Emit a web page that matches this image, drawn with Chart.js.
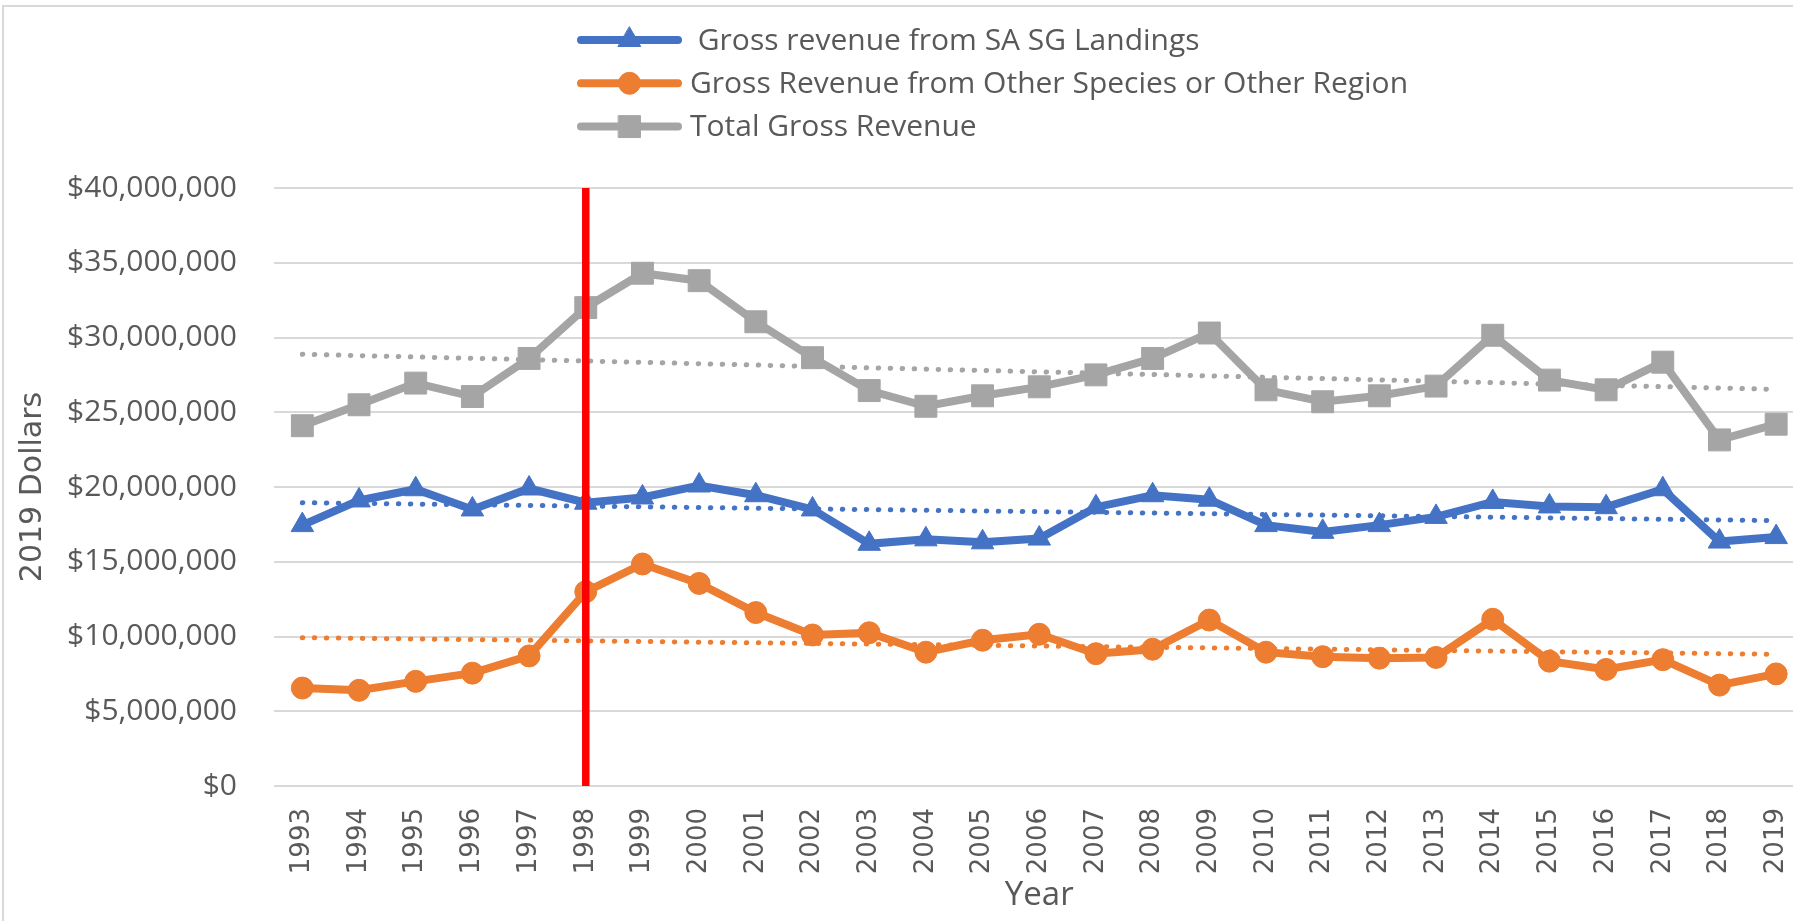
<!DOCTYPE html>
<html>
<head>
<meta charset="utf-8">
<title>Gross revenue 1993-2019</title>
<script src="https://cdn.jsdelivr.net/npm/chart.js@4.4.0/dist/chart.umd.min.js"></script>
<style>
  html, body { margin: 0; padding: 0; background: #fff; overflow: hidden; }
  #wrap { position: relative; width: 1821px; height: 921px; }
  #frame { position: absolute; left: 2px; top: 5px; right: -10px; bottom: -10px;
           border-left: 2px solid #d9d9d9; border-top: 2px solid #d9d9d9; pointer-events: none; }
</style>
</head>
<body>
<div id="wrap"><canvas id="revenueChart"></canvas><div id="frame"></div></div>
<script>
const years = ['1993', '1994', '1995', '1996', '1997', '1998', '1999', '2000', '2001', '2002',
    '2003', '2004', '2005', '2006', '2007', '2008', '2009', '2010', '2011', '2012',
    '2013', '2014', '2015', '2016', '2017', '2018', '2019'];

// 2019 dollars
const saSgRevenue = [17450000, 19100000, 19850000, 18500000, 19900000, 18950000, 19300000, 20100000, 19450000, 18500000,
    16200000, 16500000, 16300000, 16550000, 18650000, 19450000, 19150000, 17450000, 17000000, 17450000,
    18000000, 19000000, 18700000, 18650000, 19850000, 16350000, 16650000];
const otherRevenue = [6550000, 6400000, 7000000, 7550000, 8700000, 13000000, 14850000, 13550000, 11600000, 10100000,
    10250000, 8950000, 9750000, 10150000, 8850000, 9150000, 11100000, 8950000, 8650000, 8550000,
    8600000, 11150000, 8350000, 7800000, 8450000, 6750000, 7500000];
const totalRevenue = [24100000, 25500000, 26950000, 26050000, 28600000, 32000000, 34300000, 33800000, 31050000, 28650000,
    26450000, 25400000, 26100000, 26700000, 27500000, 28600000, 30300000, 26500000, 25700000, 26100000,
    26750000, 30150000, 27150000, 26500000, 28350000, 23150000, 24200000];

// linear trendlines: values at first and last year
const trendSaSg = [18950000, 17750000];
const trendOther = [9920000, 8810000];
const trendTotal = [28880000, 26530000];

const yMax = 40000000;
const yStep = 5000000;
const markerYear = '1998';

const BLUE = '#4472C4', ORANGE = '#ED7D31', GRAY = '#A5A5A5', TEXT = '#595959';

// trendline only has its two end values, the line spans the gap
function trendData(ends) {
    return years.map((y, i) => i === 0 ? ends[0] : (i === years.length - 1 ? ends[1] : null));
}

function mainSeries(label, data, color, style, radius) {
    return {
        label: label, data: data, borderColor: color, backgroundColor: color,
        borderWidth: 8, pointStyle: style, pointRadius: radius, pointBorderWidth: 1,
        pointBackgroundColor: color, pointBorderColor: color, inLegend: true, order: 2
    };
}

function trendSeries(data, color) {
    return {
        label: 'trend', data: trendData(data), borderColor: color, borderWidth: 5,
        borderDash: [0.5, 11.5], borderCapStyle: 'round', pointRadius: 0, spanGaps: true, order: 1
    };
}

function drawMarker(ctx, style, r, x, y) {
    ctx.beginPath();
    if (style === 'triangle') {
        ctx.moveTo(x, y - r);
        ctx.lineTo(x + r * 0.866, y + r * 0.5);
        ctx.lineTo(x - r * 0.866, y + r * 0.5);
        ctx.closePath();
    } else if (style === 'rect') {
        const s = r * Math.SQRT1_2;
        ctx.rect(x - s, y - s, 2 * s, 2 * s);
    } else {
        ctx.arc(x, y, r, 0, Math.PI * 2);
    }
    ctx.fill();
    ctx.stroke();
}

const stackedLegend = {
    id: 'stackedLegend',
    afterDraw(chart) {
        const ctx = chart.ctx;
        const items = chart.data.datasets.filter(d => d.inLegend);
        items.forEach((ds, i) => {
            const y = 40 + i * 43.3;
            ctx.save();
            ctx.strokeStyle = ds.borderColor;
            ctx.fillStyle = ds.borderColor;
            ctx.lineWidth = 8;
            ctx.lineCap = 'round';
            ctx.beginPath();
            ctx.moveTo(581, y);
            ctx.lineTo(678, y);
            ctx.stroke();
            ctx.lineWidth = 1;
            drawMarker(ctx, ds.pointStyle, ds.pointRadius, 629.5, y);
            ctx.fillStyle = TEXT;
            ctx.font = '30px "Open Sans"';
            ctx.textBaseline = 'middle';
            ctx.fillText(ds.label, 690, y + 1);
            ctx.restore();
        });
    }
};

const yearMarker = {
    id: 'yearMarker',
    afterDatasetsDraw(chart) {
        const {ctx, scales: {x, y}} = chart;
        const px = x.getPixelForValue(years.indexOf(markerYear));
        ctx.save();
        ctx.strokeStyle = '#FF0000';
        ctx.lineWidth = 7.5;
        ctx.beginPath();
        ctx.moveTo(px, y.getPixelForValue(yMax));
        ctx.lineTo(px, y.getPixelForValue(0));
        ctx.stroke();
        ctx.restore();
    }
};

const ctx = document.getElementById('revenueChart').getContext('2d');
new Chart(ctx, {
    type: 'line',
    data: {
        labels: years,
        datasets: [
            mainSeries(' Gross revenue from SA SG Landings', saSgRevenue, BLUE, 'triangle', 13),
            mainSeries('Gross Revenue from Other Species or Other Region', otherRevenue, ORANGE, 'circle', 11),
            mainSeries('Total Gross Revenue', totalRevenue, GRAY, 'rect', 15.5),
            trendSeries(trendSaSg, BLUE),
            trendSeries(trendOther, ORANGE),
            trendSeries(trendTotal, GRAY)
        ]
    },
    options: {
        responsive: true,
        maintainAspectRatio: false,
        animation: false,
        layout: { padding: { top: 188, right: 0, bottom: 0, left: 0 } },
        plugins: {
            legend: { display: false },
            tooltip: { enabled: false }
        },
        scales: {
            x: {
                offset: true,
                grid: { display: false, drawTicks: false },
                border: { display: false },
                ticks: {
                    color: TEXT, font: { family: '"DejaVu Sans"', size: 26 },
                    minRotation: 90, maxRotation: 90, autoSkip: false, padding: 22
                },
                title: {
                    display: true, text: 'Year', color: TEXT,
                    font: { family: '"Open Sans"', size: 33 },
                    padding: { top: 0, bottom: 6 }
                },
                afterFit(scale) {
                    scale.height = 135;
                    // plot runs to the right edge like the original
                    scale.paddingLeft = 0;
                    scale.paddingRight = 0;
                }
            },
            y: {
                min: 0, max: yMax,
                grid: { color: '#D9D9D9', lineWidth: 2, drawTicks: false },
                border: { display: false },
                ticks: {
                    stepSize: yStep, color: TEXT, padding: 37,
                    font: { family: '"Open Sans"', size: 30 },
                    callback: v => '$' + v.toLocaleString('en-US')
                },
                title: {
                    display: true, text: '2019 Dollars', color: TEXT,
                    font: { family: '"DejaVu Sans"', size: 30 },
                    padding: { top: 15, bottom: 0 }
                },
                afterFit(scale) { scale.width = 274; }
            }
        }
    },
    plugins: [stackedLegend, yearMarker]
});
</script>
</body>
</html>
